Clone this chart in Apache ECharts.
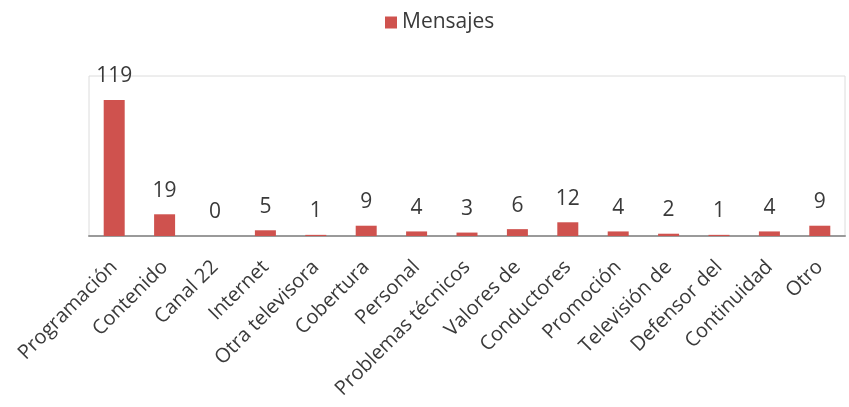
<!DOCTYPE html>
<html>
<head>
<meta charset="utf-8">
<script src="https://cdn.jsdelivr.net/npm/echarts@6/dist/echarts.min.js"></script>
<style>
  html, body { margin: 0; padding: 0; background: #fff; }
  #chart { width: 849px; height: 407px; }
</style>
</head>
<body>
<div id="chart"></div>
<script>
// Message categories and counts
const categories = [
  'Programación', 'Contenido', 'Canal 22', 'Internet', 'Otra televisora',
  'Cobertura', 'Personal', 'Problemas técnicos', 'Valores de', 'Conductores',
  'Promoción', 'Televisión de', 'Defensor del', 'Continuidad', 'Otro'
];
const mensajes = [119, 19, 0, 5, 1, 9, 4, 3, 6, 12, 4, 2, 1, 4, 9];
const seriesName = 'Mensajes';

const textColor = '#3a3a3a';
const fontFamily = '"Open Sans", "DejaVu Sans", sans-serif';

const chart = echarts.init(document.getElementById('chart'), null, { renderer: 'canvas' });
chart.setOption({
  animation: false,
  backgroundColor: '#ffffff',
  legend: {
    data: [seriesName],
    left: 380,
    top: 7,
    itemWidth: 12,
    itemHeight: 12,
    itemGap: 7,
    icon: 'rect',
    textStyle: { color: textColor, fontSize: 21, fontFamily: fontFamily }
  },
  grid: {
    left: 89, right: 4, top: 76, bottom: 171,
    show: true,
    borderColor: '#dcdcdc',
    borderWidth: 1
  },
  xAxis: {
    type: 'category',
    data: categories,
    axisLine: { lineStyle: { color: '#9a9a9a', width: 2 } },
    axisTick: { show: false },
    axisLabel: {
      interval: 0,
      rotate: 45,
      margin: 28,
      color: textColor,
      fontSize: 20,
      fontFamily: fontFamily
    }
  },
  yAxis: {
    type: 'value',
    min: 0,
    max: 140,
    show: false,
    splitLine: { show: false }
  },
  series: [{
    name: seriesName,
    type: 'bar',
    data: mensajes,
    barWidth: 21,
    itemStyle: { color: '#cf524e' },
    label: {
      show: true,
      position: 'top',
      distance: 13,
      color: textColor,
      fontSize: 21,
      fontFamily: fontFamily
    }
  }]
});
</script>
</body>
</html>
